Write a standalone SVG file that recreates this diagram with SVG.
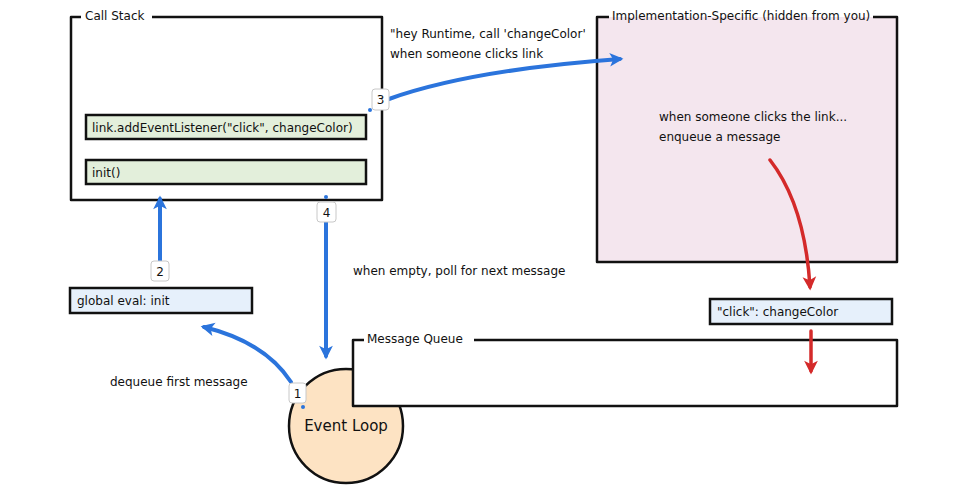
<svg xmlns="http://www.w3.org/2000/svg" width="956" height="492" viewBox="0 0 956 492">
  <style>
    text { font-family: "DejaVu Sans", "Liberation Sans", sans-serif; font-size: 12px; fill: #111; }
    .frame { fill: none; stroke: #111; stroke-width: 2.5; stroke-linejoin: round; }
    .code { fill: #e3efdb; stroke: #111; stroke-width: 2.5; }
    .note { fill: #e6f0fb; stroke: #111; stroke-width: 2.5; }
    .badge { fill: #fff; stroke: #c8c8c8; stroke-width: 1; }
    .blue { fill: none; stroke: #2b74dc; stroke-width: 4; stroke-linecap: round; }
    .red { fill: none; stroke: #d42a2a; stroke-width: 3.5; stroke-linecap: round; }
    .dot { fill: #2b74dc; }
  </style>
  <defs>
    <marker id="arrow-blue" viewBox="0 0 14 14" refX="10" refY="7" markerWidth="16" markerHeight="16" markerUnits="userSpaceOnUse" orient="auto">
      <path d="M1,1 L13,7 L1,13 L4,7 Z" fill="#2b74dc"/>
    </marker>
    <marker id="arrow-red" viewBox="0 0 14 14" refX="10" refY="7" markerWidth="16" markerHeight="16" markerUnits="userSpaceOnUse" orient="auto">
      <path d="M1,1 L13,7 L1,13 L4,7 Z" fill="#d42a2a"/>
    </marker>
  </defs>

  <rect width="956" height="492" fill="#fff"/>

  <!-- Call Stack frame with its two stack entries -->
  <g id="call-stack">
    <path class="frame" d="M81,17 L71,17 L71,200 L382,200 L382,17 L152,17"/>
    <text x="85" y="20">Call Stack</text>
    <g id="frame-listener">
      <rect class="code" x="86" y="115" width="280" height="24"/>
      <text x="92" y="132">link.addEventListener("click", changeColor)</text>
    </g>
    <g id="frame-init">
      <rect class="code" x="86" y="160" width="280" height="24"/>
      <text x="92" y="177">init()</text>
    </g>
  </g>

  <!-- Runtime internals -->
  <g id="implementation">
    <rect x="597" y="17" width="300" height="245" fill="#f4e6ee"/>
    <path class="frame" d="M609,17 L597,17 L597,262 L897,262 L897,17 L873,17"/>
    <text x="612" y="20">Implementation-Specific (hidden from you)</text>
    <text x="659" y="121">when someone clicks the link...</text>
    <text x="659" y="141">enqueue a message</text>
  </g>

  <g id="global-eval">
    <rect class="note" x="70" y="288" width="182" height="25"/>
    <text x="77" y="305">global eval: init</text>
  </g>

  <g id="click-message">
    <rect class="note" x="710" y="299" width="182" height="25"/>
    <text x="717" y="316">"click": changeColor</text>
  </g>

  <!-- Event loop sits beneath the queue frame -->
  <g id="event-loop">
    <circle cx="346" cy="426" r="57" fill="#fde3c3" stroke="#111" stroke-width="2.5"/>
    <text x="346" y="431" text-anchor="middle" style="font-size:15px">Event Loop</text>
  </g>

  <g id="message-queue">
    <rect x="353" y="340" width="544" height="66" fill="#fff"/>
    <path class="frame" d="M364,340 L353,340 L353,406 L897,406 L897,340 L474,340"/>
    <text x="367" y="343">Message Queue</text>
  </g>

  <!-- Connectors -->
  <g id="connectors">
    <path class="blue" d="M291,382 Q265,342 204,327" marker-end="url(#arrow-blue)"/>
    <path class="blue" d="M160,261 L160,199" marker-end="url(#arrow-blue)"/>
    <path class="blue" d="M389,99 Q470,70 620,59" marker-end="url(#arrow-blue)"/>
    <path class="blue" d="M326,222 L326,356" marker-end="url(#arrow-blue)"/>
    <path class="red" d="M770,160 Q805,205 810,287" marker-end="url(#arrow-red)"/>
    <path class="red" d="M811,331 L811,371" marker-end="url(#arrow-red)"/>

    <circle class="dot" cx="370" cy="110" r="2"/>
    <circle class="dot" cx="326" cy="197" r="2"/>
    <circle class="dot" cx="303" cy="407" r="2"/>

    <g id="badges">
      <rect class="badge" x="289" y="383" width="17" height="20" rx="3"/>
      <text x="297.5" y="398" text-anchor="middle">1</text>
      <rect class="badge" x="151" y="261" width="18" height="20" rx="3"/>
      <text x="160" y="276" text-anchor="middle">2</text>
      <rect class="badge" x="372" y="89" width="17" height="21" rx="3"/>
      <text x="380.5" y="104" text-anchor="middle">3</text>
      <rect class="badge" x="317" y="202" width="19" height="20" rx="3"/>
      <text x="326.5" y="217" text-anchor="middle">4</text>
    </g>

    <text x="390" y="38">"hey Runtime, call 'changeColor'</text>
    <text x="390" y="58">when someone clicks link</text>
    <text x="353" y="275">when empty, poll for next message</text>
    <text x="110" y="386">dequeue first message</text>
  </g>
</svg>
